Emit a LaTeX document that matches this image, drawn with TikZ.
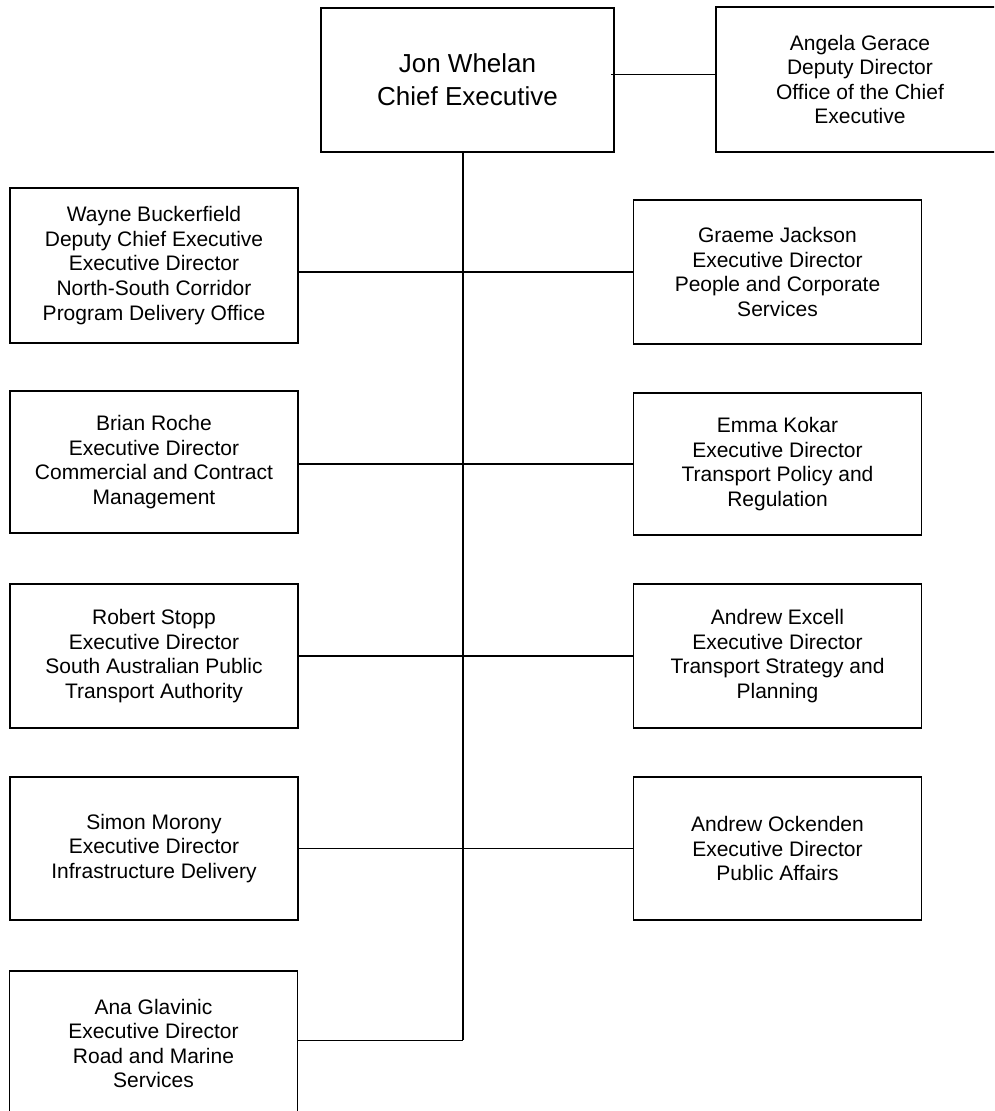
\documentclass[tikz,border=0pt]{standalone}
\usepackage{fontspec}
\setmainfont{Liberation Sans}
\usetikzlibrary{calc}

\tikzset{
  post/.style={draw=black, line width=1.2pt, align=center, inner sep=0pt,
    minimum width=288pt, font=\fontsize{21}{24.6}\selectfont},
  link/.style={line width=1.2pt},
  thinlink/.style={line width=0.8pt}
}

\begin{document}
\begin{tikzpicture}[x=1pt, y=-1pt]
		%%%%% START %%%%%
		
		\useasboundingbox (0, 0) rectangle (994, 1111);
		\clip (0, 0) rectangle (994, 1111);
		
		% chief executive and office
		\node[post, minimum width=293pt, minimum height=144pt, font=\fontsize{26}{33}\selectfont] (ce) at (467.5, 80) {Jon Whelan\\Chief Executive};
		\node[post, minimum height=145pt] (angela) at (860, 79.5) {Angela Gerace\\Deputy Director\\Office of the Chief\\Executive};
		
		% left column
		\node[post, minimum height=155pt] (wayne) at (154, 265.5) {Wayne Buckerfield\\Deputy Chief Executive\\Executive Director\\North-South Corridor\\Program Delivery Office};
		\node[post, minimum height=142pt] (brian) at (154, 462) {Brian Roche\\Executive Director\\Commercial and Contract\\Management};
		\node[post, minimum height=144pt] (robert) at (154, 656) {Robert Stopp\\Executive Director\\South Australian Public\\Transport Authority};
		\node[post, minimum height=143pt] (simon) at (154, 848.5) {Simon Morony\\Executive Director\\Infrastructure Delivery};
		\node[post, minimum height=145pt] (ana) at (153.5, 1043.5) {Ana Glavinic\\Executive Director\\Road and Marine\\Services};
		
		% right column
		\node[post, minimum height=144pt] (graeme) at (777.5, 272) {Graeme Jackson\\Executive Director\\People and Corporate\\Services};
		\node[post, minimum height=142pt] (emma) at (777.5, 464) {Emma Kokar\\Executive Director\\Transport Policy and\\Regulation};
		\node[post, minimum height=144pt] (excell) at (777.5, 656) {Andrew Excell\\Executive Director\\Transport Strategy and\\Planning};
		\node[post, minimum height=143pt] (ockenden) at (777.5, 848.5) {Andrew Ockenden\\Executive Director\\Public Affairs};
		
		% connectors
		\coordinate (ceout) at (611, 74);
		\draw[thinlink] (ceout) -- (ceout -| angela.west);
		
		\coordinate (spine) at (463, 152);
		\coordinate (bend) at (463, 1040);
		\draw[link] (spine) -- (bend);
		\draw[thinlink] (bend) -- (bend -| ana.east);
		
		\draw[link] (graeme.west) -- (graeme.west -| wayne.east);
		\draw[link] (emma.west) -- (emma.west -| brian.east);
		\draw[link] (excell.west) -- (robert.east);
		\draw[link] (ockenden.west) -- (simon.east);
		
		%%%%% END %%%%%
	\end{tikzpicture}
\end{document}
